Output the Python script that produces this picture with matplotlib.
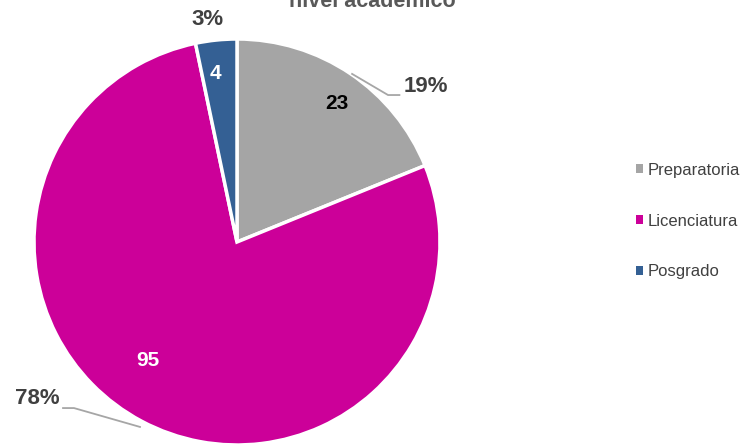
import matplotlib
matplotlib.use("Agg")
import matplotlib.pyplot as plt
from matplotlib import font_manager
from matplotlib.patches import Patch
import numpy as np

categories = ["Preparatoria", "Licenciatura", "Posgrado"]
counts = [23, 95, 4]
percent_labels = ["19%", "78%", "3%"]
colors = ["#A5A5A5", "#CC0099", "#346094"]
title = "nivel académico"

names = {f.name for f in font_manager.fontManager.ttflist}
fam = [f for f in ["Liberation Sans Narrow", "Arial Narrow", "Liberation Sans"] if f in names]
fam = fam + ["DejaVu Sans"]
plt.rcParams["font.family"] = fam

W, H = 744, 446
fig = plt.figure(figsize=(W / 100, H / 100), dpi=100)
cx, cy, r = 237, 242, 203
ax = fig.add_axes([(cx - r) / W, (H - cy - r) / H, 2 * r / W, 2 * r / H])
wedges, _ = ax.pie(counts, colors=colors, startangle=90, counterclock=False,
                   radius=1.0, wedgeprops=dict(edgecolor="white", linewidth=2.5))
ax.set_xlim(-1, 1)
ax.set_ylim(-1, 1)
ax.set_aspect("equal")
ax.axis("off")

# inside value labels
inner_pos = [(0.49, 0.68), (-0.44, -0.585), (-0.105, 0.83)]
inner_col = ["black", "white", "white"]
for v, p, c in zip(counts, inner_pos, inner_col):
    ax.text(p[0], p[1], str(v), ha="center", va="center", fontsize=15,
            fontweight="bold", color=c)

# outside percent labels
outer_pos = [(0.93, 0.765), (-0.985, -0.77), (-0.145, 1.095)]
for t, p in zip(percent_labels, outer_pos):
    ax.text(p[0], p[1], t, ha="center", va="center", fontsize=16,
            fontweight="bold", color="#404040", clip_on=False)

# leader lines
ax.plot([0.567, 0.744, 0.80], [0.828, 0.724, 0.724], color="#A6A6A6", lw=1.3, clip_on=False)
ax.plot([-0.857, -0.803, -0.478], [-0.818, -0.818, -0.911], color="#A6A6A6", lw=1.3, clip_on=False)

fig.text(372 / W, 1 - 7 / H, title, ha="center", va="baseline", fontsize=15.5,
         fontweight="bold", color="#595959")

handles = [Patch(facecolor=c, edgecolor="none") for c in colors]
fig.legend(handles, categories, loc="center left", bbox_to_anchor=(636 / W, 1 - 221 / H),
           frameon=False, fontsize=12, handlelength=0.42, handleheight=0.42,
           handletextpad=0.25, labelspacing=2.15, labelcolor="#404040",
           borderpad=0, borderaxespad=0)

fig.savefig("out.png", dpi=100)
